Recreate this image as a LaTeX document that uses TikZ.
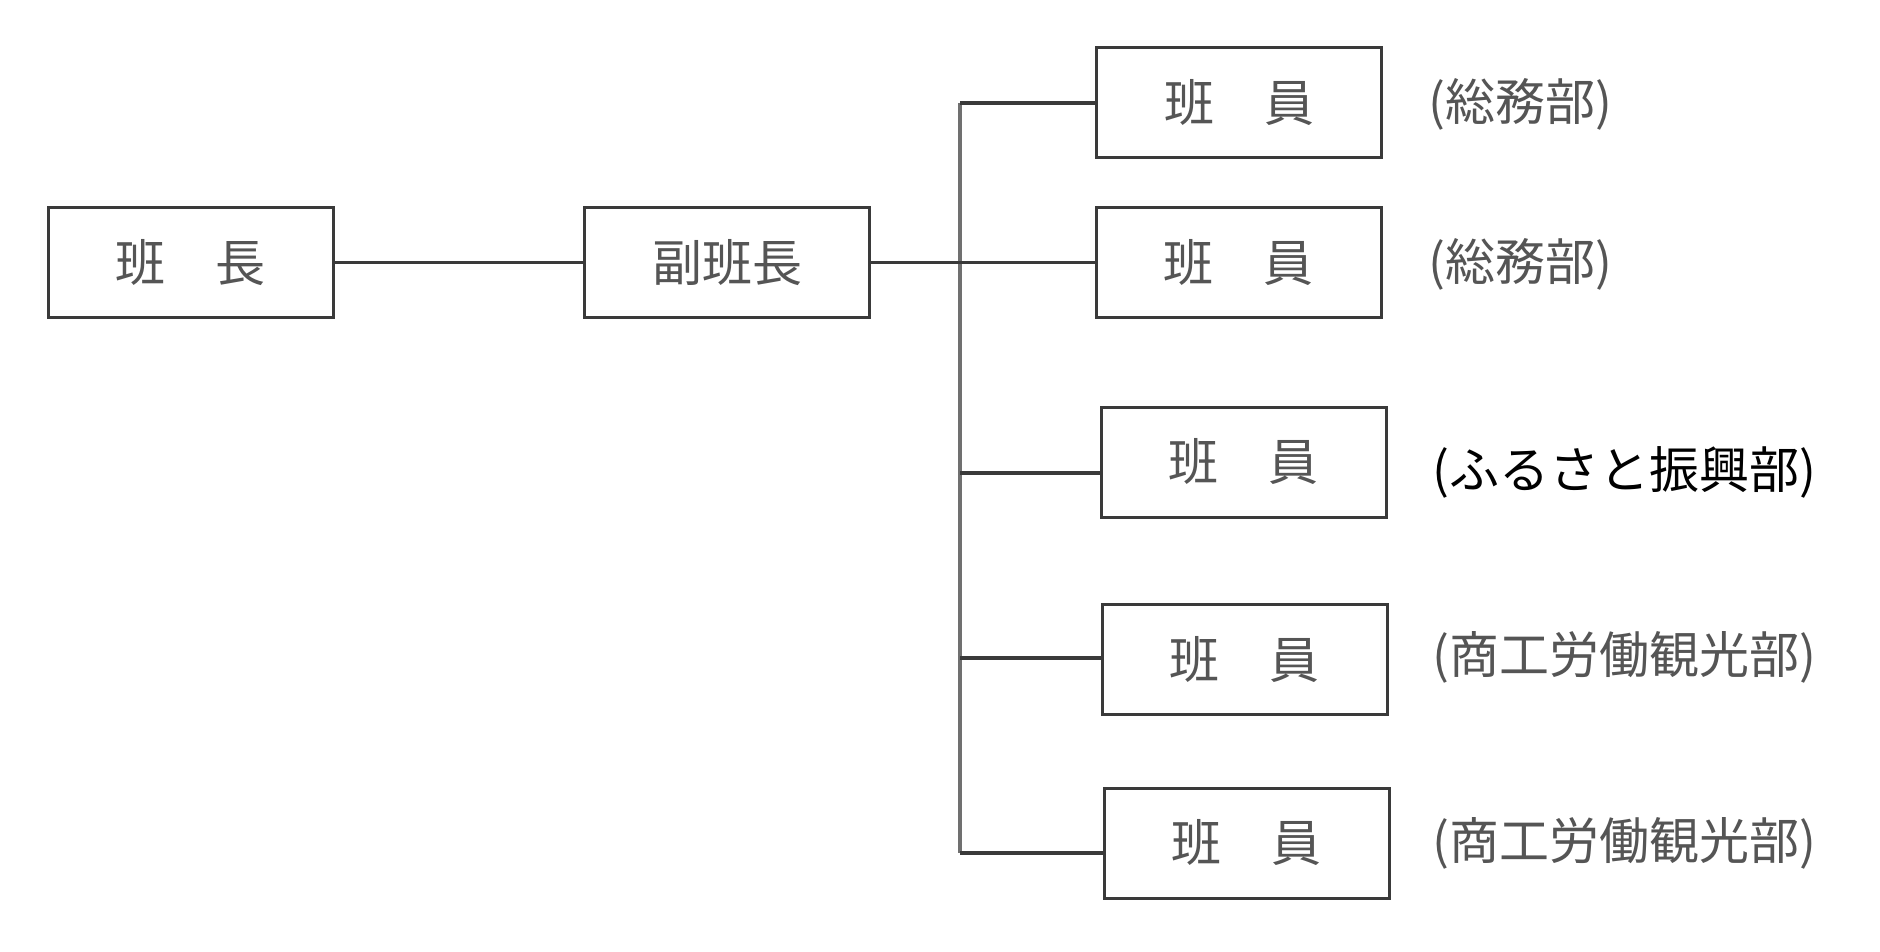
\documentclass[tikz,border=0pt]{standalone}
\usepackage{fontspec}
\newfontfamily\jp{Noto Sans CJK JP}
\definecolor{lineC}{HTML}{3A3A3A}
\definecolor{vlineC}{HTML}{707070}
\definecolor{txtC}{HTML}{555555}
\begin{document}
\begin{tikzpicture}[x=1pt,y=-1pt,
  orgbox/.style={draw=lineC, line width=3pt, fill=white, minimum width=285pt, minimum height=110pt, inner sep=0pt, text=txtC, font=\jp\fontsize{50}{58}\selectfont},
  deptlabel/.style={anchor=west, inner sep=0pt, text=txtC, font=\jp\fontsize{50}{58}\selectfont},
  conn/.style={draw=lineC, line width=3.5pt},
  vconn/.style={draw=vlineC, line width=4pt}]
\useasboundingbox (0,0) rectangle (1880,952);
\fill[white] (0,0) rectangle (1880,952);

% nodes
\node[orgbox] (leader) at (190.5,262.5) {班　長};
\node[orgbox] (vice) at (727,262.5) {副班長};
\node[orgbox] (m1) at (1239,103) {班　員};
\node[orgbox] (m2) at (1238.5,262.5) {班　員};
\node[orgbox] (m3) at (1243.5,462) {班　員};
\node[orgbox] (m4) at (1244.5,659.5) {班　員};
\node[orgbox] (m5) at (1246.5,843) {班　員};

% labels
\node[deptlabel] (l1) at (1428,104) {(総務部)};
\node[deptlabel] (l2) at (1428,264) {(総務部)};
\node[deptlabel, text=black] (l3) at (1432,472) {(ふるさと振興部)};
\node[deptlabel] (l4) at (1432,657) {(商工労働観光部)};
\node[deptlabel] (l5) at (1432,843) {(商工労働観光部)};

% coordinates on the spine
\coordinate (vtop) at (960,103);
\coordinate (b3) at (960,473);
\coordinate (b4) at (960,658);
\coordinate (vbot) at (960,853);

% connectors
\draw[vconn] (vtop) -- (vbot);
\draw[conn] (leader) -- (vice);
\draw[conn] (vice) -- (m2);
\draw[conn] (vtop) -- (m1.west);
\draw[conn] (b3) -- (b3 -| m3.west);
\draw[conn] (b4) -- (b4 -| m4.west);
\draw[conn] (vbot) -- (vbot -| m5.west);
\end{tikzpicture}
\end{document}
